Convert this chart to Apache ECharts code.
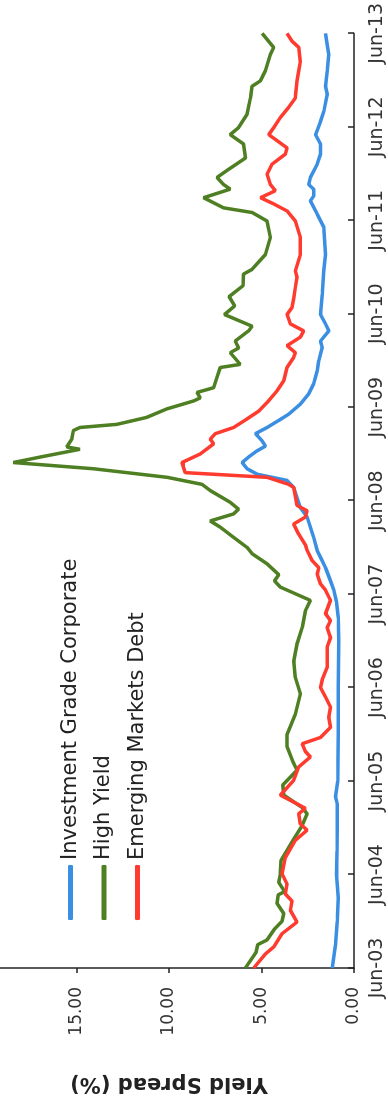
<!DOCTYPE html>
<html>
<head>
<meta charset="utf-8">
<script src="https://cdn.jsdelivr.net/npm/echarts@6/dist/echarts.min.js"></script>
<style>
html,body{margin:0;padding:0;background:#fff;width:388px;height:1102px;overflow:hidden;position:relative;}
#wrap{position:absolute;left:0;top:0;width:1102px;height:404px;transform-origin:0 0;transform:translate(-16px,1102px) rotate(-90deg);}
#chart{width:1102px;height:404px;}
</style>
</head>
<body>
<div id="wrap"><div id="chart"></div></div>
<script>
// Month index 0 = Jun-03 ... 120 = Jun-13
const tickLabels = ["Jun-03","Jun-04","Jun-05","Jun-06","Jun-07","Jun-08","Jun-09","Jun-10","Jun-11","Jun-12","Jun-13"];
const seriesNames = ["Investment Grade Corporate","High Yield","Emerging Markets Debt"];

const investmentGrade = [
  [0,1.18],[3,1.0],[6,0.9],[9,0.85],[12,0.95],[15,0.92],[18,0.9],[21,0.9],[22,1.0],[24,0.88],
  [30,0.85],[36,0.85],[42,0.82],[45,0.85],[47,0.95],[48.5,1.09],[49.7,1.27],[51.4,1.54],[52.3,1.72],
  [53.6,1.99],[55.3,2.18],[56.6,2.36],[57.9,2.53],[59.1,2.9],[61.7,3.26],[62.6,3.62],[63.4,5.24],
  [64.1,5.78],[64.9,6.05],[65.6,5.7],[66.4,5.24],[67,4.79],[67.7,4.97],[68.6,5.33],[69.4,4.7],
  [70.3,4.07],[71.1,3.53],[72.4,2.9],[73.7,2.45],[75,2.18],[76.7,1.99],[78,1.9],[79.7,1.72],
  [80.5,1.81],[81.8,1.36],[82.7,1.54],[83.9,1.81],[86.5,1.72],[89.5,1.63],[91.6,1.54],[95.1,1.63],
  [96.8,1.99],[98.5,2.36],[99.1,2.18],[100,2.18],[100.6,2.45],[101.5,2.36],[103.2,1.99],[104.5,1.81],
  [105.8,1.81],[107,2.08],[108.7,1.81],[110,1.63],[112.2,1.45],[113.2,1.54],[115.2,1.45],[117.3,1.36],
  [118.5,1.45],[120,1.54]
];

const highYield = [
  [0,5.87],[2,5.3],[3,5.2],[3.6,4.7],[5,4.3],[6,3.89],[7,3.8],[8.3,4.16],[9.4,4.1],[9.8,3.75],
  [11,4.07],[12.1,3.98],[13.8,3.95],[15.1,3.62],[16.4,3.3],[18.3,2.8],[19.8,2.53],[20.6,2.8],
  [22.2,3.8],[23.5,3.85],[24.5,3.44],[25.4,3.08],[26.5,3.3],[28.4,3.62],[30,3.62],[32.6,3.17],
  [35.2,2.9],[37.3,3.17],[39.4,3.26],[41.6,3.08],[43.7,2.8],[45.9,2.62],[47.2,2.36],[48.9,3.98],
  [49.7,4.3],[50.5,4.07],[51.9,4.7],[53.2,5.51],[54,5.78],[55.3,6.51],[56.6,7.23],[57.4,7.77],
  [58.3,6.51],[58.9,6.24],[59.8,6.69],[61.3,7.77],[62.1,8.22],[63,10.1],[64.1,14.09],[64.9,18.42],
  [65.6,16.97],[66.6,14.81],[66.9,15.53],[67.9,15.26],[69,15.17],[69.4,14.81],[69.8,12.82],
  [70.7,11.2],[71.8,10.1],[72.8,8.67],[73.2,8.31],[73.9,8.49],[74.5,7.59],[75.8,7.41],[77.1,7.23],
  [77.5,6.15],[79,6.69],[79.6,6.24],[80.5,6.42],[81.8,5.7],[82.4,5.51],[83.9,7.0],[85,6.45],
  [86.2,6.75],[87.6,6.0],[89.1,5.97],[89.7,5.51],[91.6,4.79],[93.8,4.52],[95.9,4.7],[97,5.51],
  [97.6,7.05],[98.9,8.13],[100,6.69],[100.6,7.05],[101.5,7.41],[102.4,6.87],[104,5.87],[105.8,5.97],
  [107,6.69],[107.9,6.24],[109.6,5.78],[111.7,5.6],[113.2,5.51],[113.9,5.06],[115.2,4.79],
  [117.3,4.52],[118.2,4.34],[120,4.97]
];

const emergingDebt = [
  [0,5.42],[1.8,4.79],[2.7,4.34],[4.4,3.89],[5.9,3.08],[7.4,3.44],[8.6,3.35],[9.5,3.71],[10.8,3.62],
  [12.1,3.89],[14.2,3.71],[16.4,3.17],[17.7,2.53],[18.5,2.9],[19.8,2.99],[20.5,2.62],[22.2,3.98],
  [24.1,3.26],[25.8,2.99],[27.1,2.36],[27.8,2.63],[28.8,2.8],[29.6,1.81],[30.9,1.27],[32.2,1.36],
  [33.5,1.27],[34.8,1.54],[36,1.81],[37,1.72],[38.6,1.45],[41.2,1.45],[42.4,1.27],[43.7,1.45],
  [44.6,1.27],[45.5,1.54],[47.2,1.27],[48.5,1.54],[49.3,1.81],[50.6,1.99],[51.4,1.9],[52.3,2.26],
  [53.6,2.53],[54.3,2.62],[55.7,2.99],[57,3.26],[57.9,2.63],[58.7,2.53],[59.4,3.08],[61.7,3.26],
  [62.1,3.53],[63,4.7],[63.6,9.12],[64.9,9.3],[66,8.31],[67.3,7.59],[67.9,7.77],[68.6,7.5],
  [69.4,6.51],[70.5,5.78],[71.5,5.15],[72.6,4.7],[74.1,4.16],[75.4,3.8],[77.1,3.62],[78.4,3.26],
  [79,3.17],[79.9,3.62],[81,2.9],[81.8,2.72],[82.7,3.44],[83.9,3.62],[84.8,3.35],[86,3.26],
  [87.4,3.17],[88.7,3.08],[89.5,3.17],[91.6,2.9],[93.8,2.9],[95.9,3.17],[97.2,3.62],[98.1,4.34],
  [98.9,5.06],[99.8,4.25],[100.6,4.52],[101.9,4.7],[103.2,4.43],[104.5,3.71],[105.3,3.62],[107,4.61],
  [107.9,4.34],[109.2,3.98],[110.5,3.53],[111.7,3.17],[113.9,3.08],[115.2,2.99],[116.4,2.9],
  [118.2,2.99],[119,3.35],[120,3.62]
];

const colors = ["#3b8fe3","#4e7f22","#ff3a2e"];
const font = "DejaVu Sans";

const chart = echarts.init(document.getElementById('chart'), null, {renderer:'canvas', width:1102, height:404});
chart.setOption({
  backgroundColor:'#ffffff',
  animation:false,
  color: colors,
  grid:{left:134, right:32.3, top:0, bottom:34, containLabel:false},
  legend:{
    orient:'vertical', left:177, top:71,
    itemWidth:55, itemHeight:5, itemGap:12.5, icon:'roundRect',
    textStyle:{fontFamily:font, fontSize:21, color:'#222', lineHeight:21},
    data: seriesNames
  },
  xAxis:{
    type:'value', min:0, max:120, interval:12,
    axisLine:{show:true, onZero:false, lineStyle:{color:'#222', width:1.5}},
    axisTick:{show:true, inside:true, length:6, lineStyle:{color:'#222', width:1.5}},
    axisLabel:{fontFamily:font, fontSize:19, color:'#333', margin:14, showMinLabel:true, showMaxLabel:true,
      formatter:(v)=> tickLabels[Math.round(v/12)] || ''},
    splitLine:{show:false}
  },
  yAxis:{
    type:'value', min:0, max:20, interval:5,
    name:'Yield Spread (%)', nameLocation:'middle', nameGap:105, nameMoveOverlap:false,
    nameTextStyle:{fontFamily:font, fontSize:21, fontWeight:'bold', color:'#222'},
    axisLine:{show:true, lineStyle:{color:'#222', width:1.5}},
    axisTick:{show:true, inside:false, length:5, lineStyle:{color:'#222', width:1.5}},
    axisLabel:{fontFamily:font, fontSize:17, color:'#333', margin:19,
      formatter:(v)=> v >= 20 ? '' : v.toFixed(2)},
    splitLine:{show:false}
  },
  series: [
    {name:seriesNames[0], type:'line', data:investmentGrade, symbol:'none', lineStyle:{width:3.5, color:colors[0]}},
    {name:seriesNames[1], type:'line', data:highYield, symbol:'none', lineStyle:{width:3.5, color:colors[1]}},
    {name:seriesNames[2], type:'line', data:emergingDebt, symbol:'none', lineStyle:{width:3.5, color:colors[2]}}
  ]
});
</script>
</body>
</html>
